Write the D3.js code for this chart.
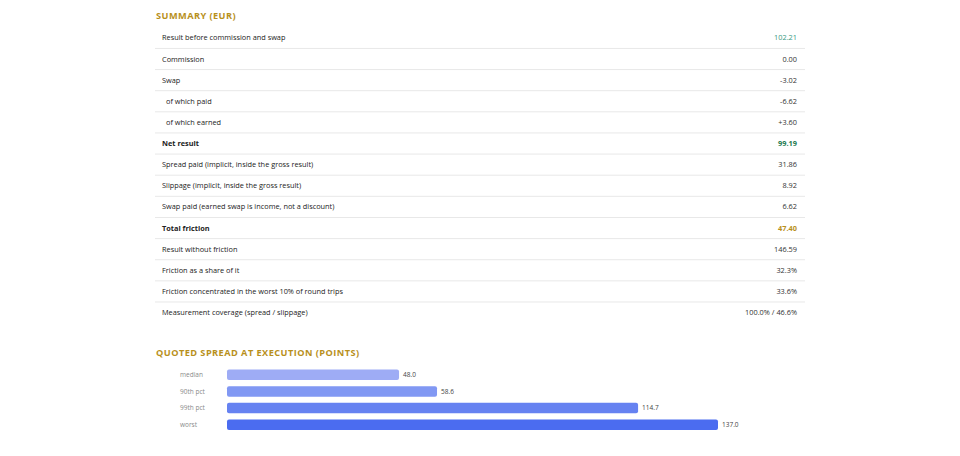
<!DOCTYPE html>
<html><head><meta charset="utf-8">
<script src="https://cdn.jsdelivr.net/npm/d3@7"></script>
<style>
html,body{margin:0;padding:0;background:#fff;}
svg{display:block;font-family:"Open Sans","Noto Sans",sans-serif;}
</style></head>
<body><svg id="c" width="960" height="456"></svg>
<script>
const summaryTitle = "SUMMARY (EUR)";
const rowLabels = [
  "Result before commission and swap","Commission","Swap","of which paid","of which earned",
  "Net result","Spread paid (implicit, inside the gross result)","Slippage (implicit, inside the gross result)",
  "Swap paid (earned swap is income, not a discount)","Total friction","Result without friction",
  "Friction as a share of it","Friction concentrated in the worst 10% of round trips",
  "Measurement coverage (spread / slippage)"
];
const rowValues = ["102.21","0.00","-3.02","-6.62","+3.60","99.19","31.86","8.92","6.62","47.40","146.59","32.3%","33.6%","100.0% / 46.6%"];
const rowKinds = ["pos","","","sub","sub","net","","","","total","","","",""];

const spreadTitle = "QUOTED SPREAD AT EXECUTION (POINTS)";
const spreadCats = ["median","90th pct","99th pct","worst"];
const spreadVals = [48.0, 58.6, 114.7, 137.0];
const barColors = ["#9eacf5","#8198f3","#6682f1","#4b6cf0"];

const svg = d3.select("#c");
const gold = "#b8901c";

// Summary title
svg.append("text").attr("x",156).attr("y",18.5).text(summaryTitle)
  .attr("font-size",9.2).attr("font-weight",700).attr("fill",gold).attr("letter-spacing",0.45);

const tL = 155, tR = 805;
const y = d3.scaleBand().domain(d3.range(rowLabels.length)).range([27.3, 27.3 + 21.13*rowLabels.length]);
const rows = svg.append("g").selectAll("g").data(rowLabels).join("g")
  .attr("transform",(d,i)=>`translate(0,${y(i)})`);
rows.filter((d,i)=>i<rowLabels.length-1).append("line")
  .attr("x1",tL).attr("x2",tR).attr("y1",y.bandwidth()).attr("y2",y.bandwidth())
  .attr("stroke","#e8e8e8").attr("stroke-width",1);
rows.append("text").attr("x",(d,i)=>rowKinds[i]==="sub"?166:162).attr("y",y.bandwidth()/2).attr("dy","0.35em")
  .attr("font-size",7.35).attr("fill","#222")
  .attr("font-weight",(d,i)=>(rowKinds[i]==="net"||rowKinds[i]==="total")?700:400)
  .text(d=>d);
rows.append("text").attr("x",797).attr("y",y.bandwidth()/2).attr("dy","0.35em").attr("text-anchor","end")
  .attr("font-size",7.35)
  .attr("font-weight",(d,i)=>(rowKinds[i]==="net"||rowKinds[i]==="total")?700:400)
  .attr("fill",(d,i)=>rowKinds[i]==="pos"?"#3a9a82":rowKinds[i]==="net"?"#1b7a4e":rowKinds[i]==="total"?gold:"#333")
  .text((d,i)=>rowValues[i]);

// Spread chart
svg.append("text").attr("x",156).attr("y",355.5).text(spreadTitle)
  .attr("font-size",9.2).attr("font-weight",700).attr("fill",gold).attr("letter-spacing",0.45);

const x = d3.scaleLinear().domain([0, d3.max(spreadVals)]).range([227, 718]);
const yb = d3.scaleBand().domain(spreadCats).range([366.5, 433]).paddingInner(0.37).paddingOuter(0.18);
const bg = svg.append("g");
bg.selectAll("rect").data(spreadCats).join("rect")
  .attr("x",x(0)).attr("y",d=>yb(d)).attr("height",yb.bandwidth())
  .attr("width",(d,i)=>x(spreadVals[i])-x(0)).attr("rx",2).attr("fill",(d,i)=>barColors[i]);
bg.selectAll("text.cat").data(spreadCats).join("text").attr("class","cat")
  .attr("x",180).attr("y",d=>yb(d)+yb.bandwidth()/2).attr("dy","0.35em")
  .attr("font-size",6.5).attr("fill","#8a8a8a").text(d=>d);
bg.selectAll("text.val").data(spreadCats).join("text").attr("class","val")
  .attr("x",(d,i)=>x(spreadVals[i])+4).attr("y",d=>yb(d)+yb.bandwidth()/2).attr("dy","0.35em")
  .attr("font-size",6.5).attr("fill","#444").text((d,i)=>spreadVals[i].toFixed(1));
</script></body></html>
